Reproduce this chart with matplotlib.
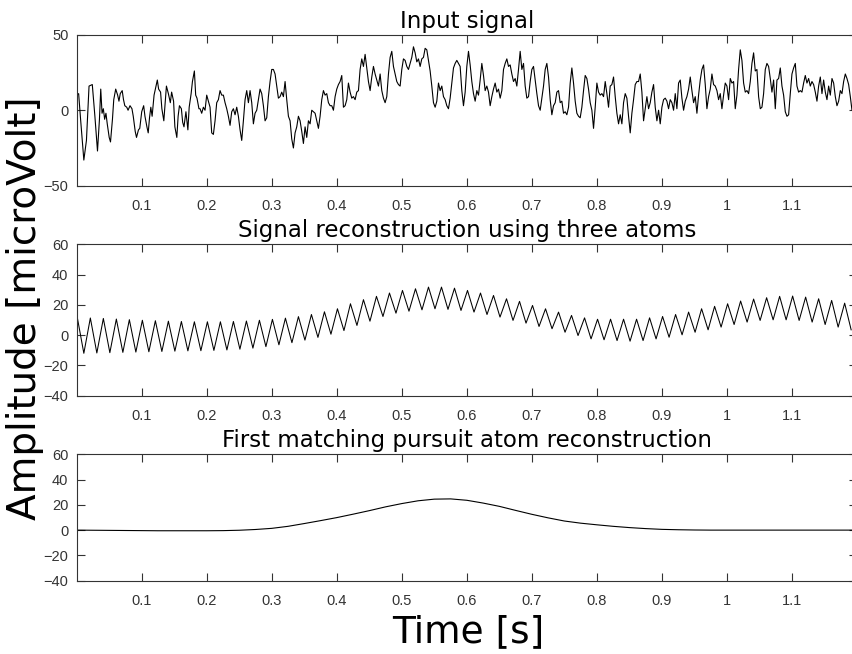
import matplotlib.pyplot as plt
import numpy as np

# input signal, first 0.19 s (read at irregular spacing)
onset_t = [0.000, 0.003, 0.006, 0.011, 0.015, 0.019, 0.024, 0.028, 0.032, 0.035,
           0.037, 0.039, 0.041, 0.043, 0.045, 0.047, 0.050, 0.052, 0.055, 0.057,
           0.060, 0.063, 0.065, 0.067, 0.070, 0.072, 0.074, 0.077, 0.079, 0.082,
           0.085, 0.087, 0.090, 0.092, 0.095, 0.097, 0.100, 0.103, 0.105, 0.108,
           0.110, 0.112, 0.114, 0.116, 0.119, 0.122, 0.124, 0.126, 0.129, 0.131,
           0.134, 0.136, 0.138, 0.141, 0.144, 0.146, 0.149, 0.151, 0.154, 0.156,
           0.158, 0.161, 0.163, 0.165, 0.168, 0.171, 0.173, 0.176, 0.178, 0.181,
           0.183, 0.185, 0.188]
onset_uv = [10, 11, -6, -33, -20, 16, 17, -4, -27, -6,
            14, -2, 1, -6, -2, -9, -18, -21, -6, 7,
            14, 10, 6, 11, 13, 7, 3, 2, 0, 3,
            1, -4, -14, -18, -13, -12, -1, 3, -4, -11,
            -15, -5, 2, -4, 10, 16, 20, 14, 12, 1,
            -7, 5, 16, 11, 5, 12, 6, -11, -18, -4,
            3, 1, -8, -11, -1, -13, 2, 11, 19, 26,
            10, 8, 1]

# rest of the input signal, read every 1/390 s from t_start
fs = 390.0
t_start = 0.1897
input_uv = [
    1, -2, 2, 0, 10, 6, 2, -15, -16, -7, 5, 7, 13, 10, 10, 5, 1, -4, -10, -1,
    1, -3, 2, -4, -13, -20, -7, 7, 13, 5, 13, 5, -9, -2, 0, 7, 14, 11, 3, -7,
    -5, 9, 19, 27, 27, 24, 16, 8, 9, 12, 9, 19, 7, -4, -7, -19, -25, -15, -11, -4,
    -7, -14, -22, -11, -18, -7, -9, 0, -1, -2, -7, -12, -4, 7, 13, 10, 11, 5, 3,
    3, 0, 9, 14, 17, 19, 23, 2, 3, 7, 18, 12, 8, 9, 7, 12, 13, 27, 34, 29,
    37, 28, 19, 13, 22, 29, 24, 20, 16, 24, 13, 8, 5, 9, 24, 35, 39, 29, 24, 19,
    17, 16, 27, 34, 33, 29, 27, 31, 35, 42, 38, 32, 34, 29, 34, 35, 41, 40, 33, 26,
    16, 5, 2, 6, 18, 13, 16, 9, 7, 3, 1, 8, 18, 28, 31, 33, 31, 29,
    13, 3, 12, 29, 39, 30, 19, 11, 6, 13, 10, 20, 31, 23, 13, 16, 12, 3, 9, 14,
    18, 12, 14, 8, 13, 27, 31, 34, 29, 30, 24, 19, 21, 16, 27, 39, 27, 31, 16, 8,
    9, 19, 27, 29, 20, 11, 3, 0, 8, 16, 27, 31, 22, 7, -3, 3, 5, 12, 13, 5,
    6, -2, -1, -3, 2, 18, 28, 18, 6, -2, -4, -5, 2, 13, 23, 21, 14, 5,
    0, -12, 2, 18, 12, 10, 11, 9, 19, 11, 2, 16, 17, 22, 9, -2, -9, -3, -9, 5,
    11, 8, -4, -15, -2, 7, 17, 19, 19, 24, 12, -7, 1, 9, 1, 5, 12, 17, 2, -7,
    0, -9, 2, 7, 8, 6, 1, 7, 5, 0, 11, 1, 18, 20, 8, 0, 6, 9, 14, 22,
    13, 5, 9, -2, 10, 20, 27, 30, 17, 1, 9, 14, 24, 17, 16, 13, 7, 11,
    1, 10, 18, 16, 7, 21, 18, 19, 1, 10, 27, 40, 33, 18, 12, 13, 11, 19, 31, 38,
    26, 27, 9, 1, 2, 11, 27, 31, 29, 21, 12, 20, 1, 20, 21, 28, 16, 10, -1, -4,
    -3, 11, 24, 28, 31, 16, 12, 13, 12, 18, 23, 18, 21, 16, 19, 17, 12, 6, 16, 22,
    11, 20, 12, 7, 16, 10, 21, 18, 9, 3, 6, 13, 11, 19, 24, 21, 17, 9, 0, 1]

# three-atom reconstruction: maxima and minima of the 50 Hz ripple
ripple_period = 0.02
first_peak_t = 0.001
recon_peaks = [11.5, 11.3, 11.0, 10.6, 10.2, 9.8, 9.5, 9.2, 9.0, 8.8,
               8.8, 8.8, 9.0, 9.3, 9.8, 10.4, 11.2, 12.2, 13.6, 15.4,
               17.4, 20.7, 23.4, 25.6, 27.8, 29.5, 30.6, 31.7, 31.7, 31.0,
               29.5, 27.8, 26.2, 24.0, 22.3, 19.6, 17.4, 15.2, 13.0, 11.4,
               10.5, 10.5, 10.5, 10.5, 11.4, 12.3, 13.6, 15.2, 17.4, 19.0,
               20.7, 22.5, 23.8, 24.7, 25.6, 25.8, 25.1, 24.0, 22.9, 21.1]
recon_troughs = [-12.0, -11.8, -11.6, -11.4, -11.2, -11.0, -10.8, -10.6, -10.4, -10.3,
                 -10.1, -9.8, -9.3, -8.6, -7.6, -6.4, -5.0, -3.3, -1.5, 0.6,
                 3.0, 6.4, 9.2, 12.3, 14.5, 15.8, 16.7, 17.4, 17.0, 16.3,
                 15.2, 13.6, 11.9, 9.7, 7.9, 5.7, 4.2, 1.9, -0.3, -2.5,
                 -3.1, -3.6, -4.0, -3.6, -2.5, -1.4, 0.2, 1.9, 3.5, 5.3,
                 7.0, 8.6, 9.7, 10.1, 10.1, 9.7, 8.6, 7.0, 5.3, 3.5]

# first atom, read every 0.025 s from 0 to 1.2 s
atom_uv = [0, -0.1, -0.2, -0.3, -0.4, -0.5, -0.5, -0.5, -0.5, -0.4,
           -0.1, 0.5, 1.4, 3.0, 5.2, 7.5, 9.9, 12.6, 15.4, 18.4,
           21.0, 23.2, 24.5, 24.7, 23.6, 21.4, 18.8, 15.6, 12.5, 9.7,
           7.2, 5.5, 4.2, 3.0, 2.0, 1.2, 0.6, 0.3, 0.1, 0.0,
           0, 0, 0, 0, 0, 0, 0, 0, 0]

xticks = [0.1, 0.2, 0.3, 0.4, 0.5, 0.6, 0.7, 0.8, 0.9, 1.0, 1.1]
xlabels = ['0.1', '0.2', '0.3', '0.4', '0.5', '0.6', '0.7', '0.8', '0.9', '1', '1.1']
titles = ['Input signal', 'Signal reconstruction using three atoms',
          'First matching pursuit atom reconstruction']

axc = '#333333'


def style(ax, ylim, yticks, title):
    ax.set_xlim(0, 1.2)
    ax.set_ylim(ylim)
    ax.set_xticks(xticks)
    ax.set_xticklabels(xlabels)
    ax.set_yticks(yticks)
    ax.tick_params(direction='in', top=True, right=True, length=5.5, width=0.8,
                   color=axc, labelcolor=axc, labelsize=10.5)
    ax.tick_params(axis='x', pad=9.5)
    ax.tick_params(axis='y', pad=6)
    for lab in ax.get_xticklabels() + ax.get_yticklabels():
        lab.set_fontfamily('Liberation Sans')
    for sp in ax.spines.values():
        sp.set_color(axc)
        sp.set_linewidth(0.8)
    ax.set_title(title, fontsize=16.5, pad=5)


fig = plt.figure(figsize=(8.53, 6.54), dpi=100)
left, width = 0.0899, 0.9148
ax1 = fig.add_axes([left, 0.716, width, 0.2309])
ax2 = fig.add_axes([left, 0.395, width, 0.2315])
ax3 = fig.add_axes([left, 0.1121, width, 0.1933])

# input signal
t_rest = t_start + np.arange(len(input_uv)) / fs
t_in = np.concatenate([onset_t, t_rest])
uv_in = np.concatenate([onset_uv, input_uv])
ax1.plot(t_in, uv_in, color='k', lw=0.8)
style(ax1, (-50, 50), [-50, 0, 50], titles[0])

# reconstruction: alternate maxima and minima
k = np.arange(len(recon_peaks))
t_rec = np.empty(2 * len(k))
t_rec[0::2] = first_peak_t + k * ripple_period
t_rec[1::2] = first_peak_t + (k + 0.5) * ripple_period
uv_rec = np.empty(2 * len(k))
uv_rec[0::2] = recon_peaks
uv_rec[1::2] = recon_troughs
ax2.plot(t_rec, uv_rec, color='k', lw=0.75, solid_joinstyle='round')
style(ax2, (-40, 60), [-40, -20, 0, 20, 40, 60], titles[1])

# first atom
t_atom = np.linspace(0, 1.2, len(atom_uv))
ax3.plot(t_atom, atom_uv, color='k', lw=0.8)
style(ax3, (-40, 60), [-40, -20, 0, 20, 40, 60], titles[2])

fig.text(25 / 853, 1 - 308 / 654, 'Amplitude [microVolt]', rotation=90, fontsize=28,
         ha='center', va='center')
fig.text(468 / 853, 1 - 632 / 654, 'Time [s]', fontsize=27, ha='center', va='center')

plt.savefig('out.png', dpi=100)
plt.close(fig)
